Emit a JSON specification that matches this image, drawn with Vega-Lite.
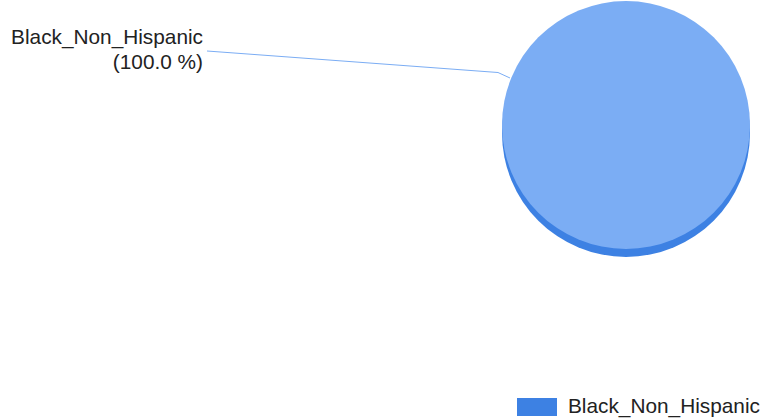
{
  "$schema": "https://vega.github.io/schema/vega-lite/v6.json",
  "width": 765,
  "height": 420,
  "autosize": {"type": "none"},
  "padding": 0,
  "background": "white",
  "config": {"view": {"stroke": null}, "font": "Liberation Sans"},
  "data": {"values": [{"group": "Black_Non_Hispanic", "share": 100}]},
  "transform": [
    {"calculate": "'(' + format(datum.share, '.1f') + ' %)'", "as": "pct_label"}
  ],
  "layer": [
    {
      "mark": {"type": "arc", "x": 626, "y": 133, "radius": 124, "strokeWidth": 0},
      "encoding": {
        "theta": {"field": "share", "type": "quantitative"},
        "color": {
          "field": "group",
          "type": "nominal",
          "scale": {"range": ["#3d81e3"]},
          "legend": {
            "title": null,
            "orient": "none",
            "legendX": 517,
            "legendY": 387,
            "padding": 0,
            "symbolType": "M-1,-0.45H1V0.45H-1Z",
            "symbolSize": 1600,
            "symbolStrokeWidth": 0,
            "symbolOpacity": 1,
            "labelFont": "Liberation Sans",
            "labelFontSize": 20.8,
            "labelLimit": 0,
            "labelColor": "#222222",
            "labelOffset": 11,
            "encode": {"symbols": {"update": {"fill": {"value": "#4a8ef2"}}}}
          }
        }
      }
    },
    {
      "mark": {"type": "arc", "x": 626, "y": 125, "radius": 124, "fill": "#7badf4", "strokeWidth": 0},
      "encoding": {
        "theta": {"field": "share", "type": "quantitative"}
      }
    },
    {
      "mark": {"type": "rule", "color": "#7badf4", "strokeWidth": 1},
      "encoding": {
        "x": {"value": 207},
        "y": {"value": 51},
        "x2": {"value": 498},
        "y2": {"value": 72.5}
      }
    },
    {
      "mark": {"type": "rule", "color": "#7badf4", "strokeWidth": 1},
      "encoding": {
        "x": {"value": 498},
        "y": {"value": 72.5},
        "x2": {"value": 510},
        "y2": {"value": 78}
      }
    },
    {
      "mark": {"type": "text", "x": 203, "y": 44, "align": "right", "baseline": "alphabetic", "fontSize": 20.8, "color": "#222222"},
      "encoding": {"text": {"field": "group", "type": "nominal"}}
    },
    {
      "mark": {"type": "text", "x": 203, "y": 68.5, "align": "right", "baseline": "alphabetic", "fontSize": 20.8, "color": "#222222"},
      "encoding": {"text": {"field": "pct_label", "type": "nominal"}}
    }
  ]
}
